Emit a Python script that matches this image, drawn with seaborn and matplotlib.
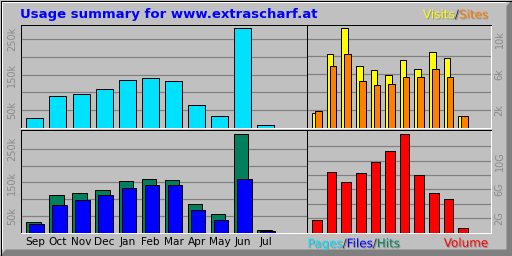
import numpy as np
import pandas as pd
import matplotlib
matplotlib.use('Agg')
import matplotlib.pyplot as plt
import matplotlib.patheffects as pe
from matplotlib.patches import Rectangle, Polygon
import seaborn as sns

# ---------------- data ----------------
months = ['Sep', 'Oct', 'Nov', 'Dec', 'Jan', 'Feb', 'Mar', 'Apr', 'May', 'Jun', 'Jul']
pages_k = [28, 88, 96, 108, 136, 139, 133, 65, 34, 281, 6]
hits_k = [33, 111, 117, 126, 153, 159, 156, 87, 57, 296, 9]
files_k = [25, 84, 99, 111, 132, 141, 141, 69, 39, 159, 6]
visits_k = [1.58, 8.33, 11.15, 6.87, 6.42, 5.86, 7.55, 6.64, 8.45, 7.88, 1.24]
sites_k = [1.91, 6.98, 8.33, 5.18, 4.84, 4.95, 5.74, 5.74, 6.53, 5.63, 1.24]
volume_g = [1.81, 8.48, 7.09, 8.34, 9.87, 11.4, 13.77, 8.07, 5.56, 4.73, 0.7]

left_ticks = [50, 100, 150, 200, 250]
left_labels = ['50k', '', '150k', '', '250k']
visit_ticks = [2, 4, 6, 8, 10]
visit_labels = ['2k', '', '6k', '', '10k']
vol_ticks = [2, 4, 6, 8, 10, 12]
vol_labels = ['2G', '', '6G', '', '10G', '']

title = 'Usage summary for www.extrascharf.at'

C_PAGES = '#00e0ff'
C_FILES = '#0000ff'
C_HITS = '#00805c'
C_VISITS = '#ffff00'
C_SITES = '#ff8000'
C_VOL = '#ff0000'
BG = '#c0c0c0'
GRID = '#808080'

W, H = 512, 256
PX = 72 / 100.0  # points per pixel

sns.set_theme(style='white')
plt.rcParams['font.family'] = ['DejaVu Sans']

fig = plt.figure(figsize=(W / 100, H / 100), dpi=100)
fig.patch.set_facecolor(BG)

# background / frame in pixel coordinates
bg = fig.add_axes([0, 0, 1, 1])
bg.set_xlim(0, W)
bg.set_ylim(H, 0)
bg.axis('off')
bg.add_patch(Polygon([(W, 0), (W, H), (0, H), (6, 249.5), (506.5, 249.5), (506.5, 6)],
                     closed=True, fc='#808080', ec='none'))
bg.plot([1.5, 1.5], [249, 1.5], color='white', lw=PX, solid_capstyle='butt')
bg.plot([1.5, 506], [1.5, 1.5], color='white', lw=PX, solid_capstyle='butt')
bg.add_patch(Rectangle((0.5, 0.5), W - 1, H - 1, fc='none', ec='black', lw=PX))


def panel(l, t, r, b):
    ax = fig.add_axes([l / W, 1 - b / H, (r - l) / W, (b - t) / H])
    ax.set_facecolor(BG)
    for s in ['top', 'left']:
        ax.spines[s].set_color('black')
        ax.spines[s].set_linewidth(PX)
    for s in ['bottom', 'right']:
        ax.spines[s].set_color('white')
        ax.spines[s].set_linewidth(PX)
    ax.set_axisbelow(True)
    return ax


def bars(ax, x, y, width, color):
    sns.barplot(x=x, y=y, native_scale=True, width=width, color=color,
                saturation=1, edgecolor='black', linewidth=PX, orient='x',
                errorbar=None, ax=ax)


def finish(ax, ylim_top, ticks, labels, right, xlim):
    ax.set_xlim(*xlim)
    ax.set_ylim(0, ylim_top)
    ax.set_yticks(ticks)
    ax.set_yticklabels(labels)
    ax.yaxis.grid(True, color=GRID, lw=PX * 1.2)
    ax.xaxis.grid(False)
    ax.set_xlabel('')
    ax.set_ylabel('')
    if right:
        ax.yaxis.tick_right()
    ax.tick_params(axis='y', length=0, pad=2.6, labelsize=7, labelcolor='#8a8a8a',
                   labelrotation=90)
    for t in ax.get_yticklabels():
        t.set_va('center')


idx = np.arange(len(months))
xlim_left = (-0.622, -0.622 + 286 / 23.1)
xlim_right = (-0.685, -0.685 + 184 / 14.6)

# top-left: pages
ax_tl = panel(20.5, 25, 306.5, 127.5)
bars(ax_tl, idx, pages_k, 0.736, C_PAGES)
finish(ax_tl, 290.5, left_ticks, left_labels, False, xlim_left)
ax_tl.set_xticks([])

# top-right: visits / sites
ax_tr = panel(307, 25, 491, 127.5)
bars(ax_tr, idx - 0.103, visits_k, 0.44, C_VISITS)
bars(ax_tr, idx + 0.103, sites_k, 0.44, C_SITES)
finish(ax_tr, 11.54, visit_ticks, visit_labels, True, xlim_right)
ax_tr.set_xticks([])

# bottom-left: hits / files
ax_bl = panel(20.5, 130, 306.5, 232.6)
bars(ax_bl, idx - 0.065, hits_k, 0.626, C_HITS)
bars(ax_bl, idx + 0.065, files_k, 0.626, C_FILES)
finish(ax_bl, 306.9, left_ticks, left_labels, False, xlim_left)
ax_bl.set_xticks(idx)
ax_bl.set_xticklabels(months)
ax_bl.tick_params(axis='x', length=0, pad=3.3, labelsize=7.6, labelcolor='black')

# bottom-right: volume
ax_br = panel(307, 130, 491, 232.6)
bars(ax_br, idx, volume_g, 0.644, C_VOL)
finish(ax_br, 14.27, vol_ticks, vol_labels, True, xlim_right)
ax_br.set_xticks([])

# ---------------- texts ----------------
bg.text(20, 18.4, title, color='#0000ff', fontsize=9.5, fontweight='bold',
        ha='left', va='baseline')

shadow = [pe.SimplePatchShadow(offset=(0.72, -0.72), shadow_rgbFace='#8c8c8c', alpha=0.9),
          pe.Normal()]
renderer = fig.canvas.get_renderer()


def parts_text(parts, x, y, align='left', size=8.6):
    seq = parts if align == 'left' else parts[::-1]
    cur = x
    for s, c in seq:
        t = bg.text(cur, y, s, color=c, fontsize=size, ha=align, va='baseline',
                    path_effects=shadow)
        w = t.get_window_extent(renderer=renderer).width
        cur = cur + w if align == 'left' else cur - w


parts_text([('Visits', C_VISITS), ('/', '#303030'), ('Sites', C_SITES)], 488, 18.3, 'right')
parts_text([('Pages', C_PAGES), ('/', '#303030'), ('Files', C_FILES), ('/', '#303030'),
            ('Hits', C_HITS)], 307.5, 247.3, 'left')
parts_text([('Volume', C_VOL)], 488, 246.8, 'right')

fig.savefig('out.png', dpi=100, facecolor=BG)
